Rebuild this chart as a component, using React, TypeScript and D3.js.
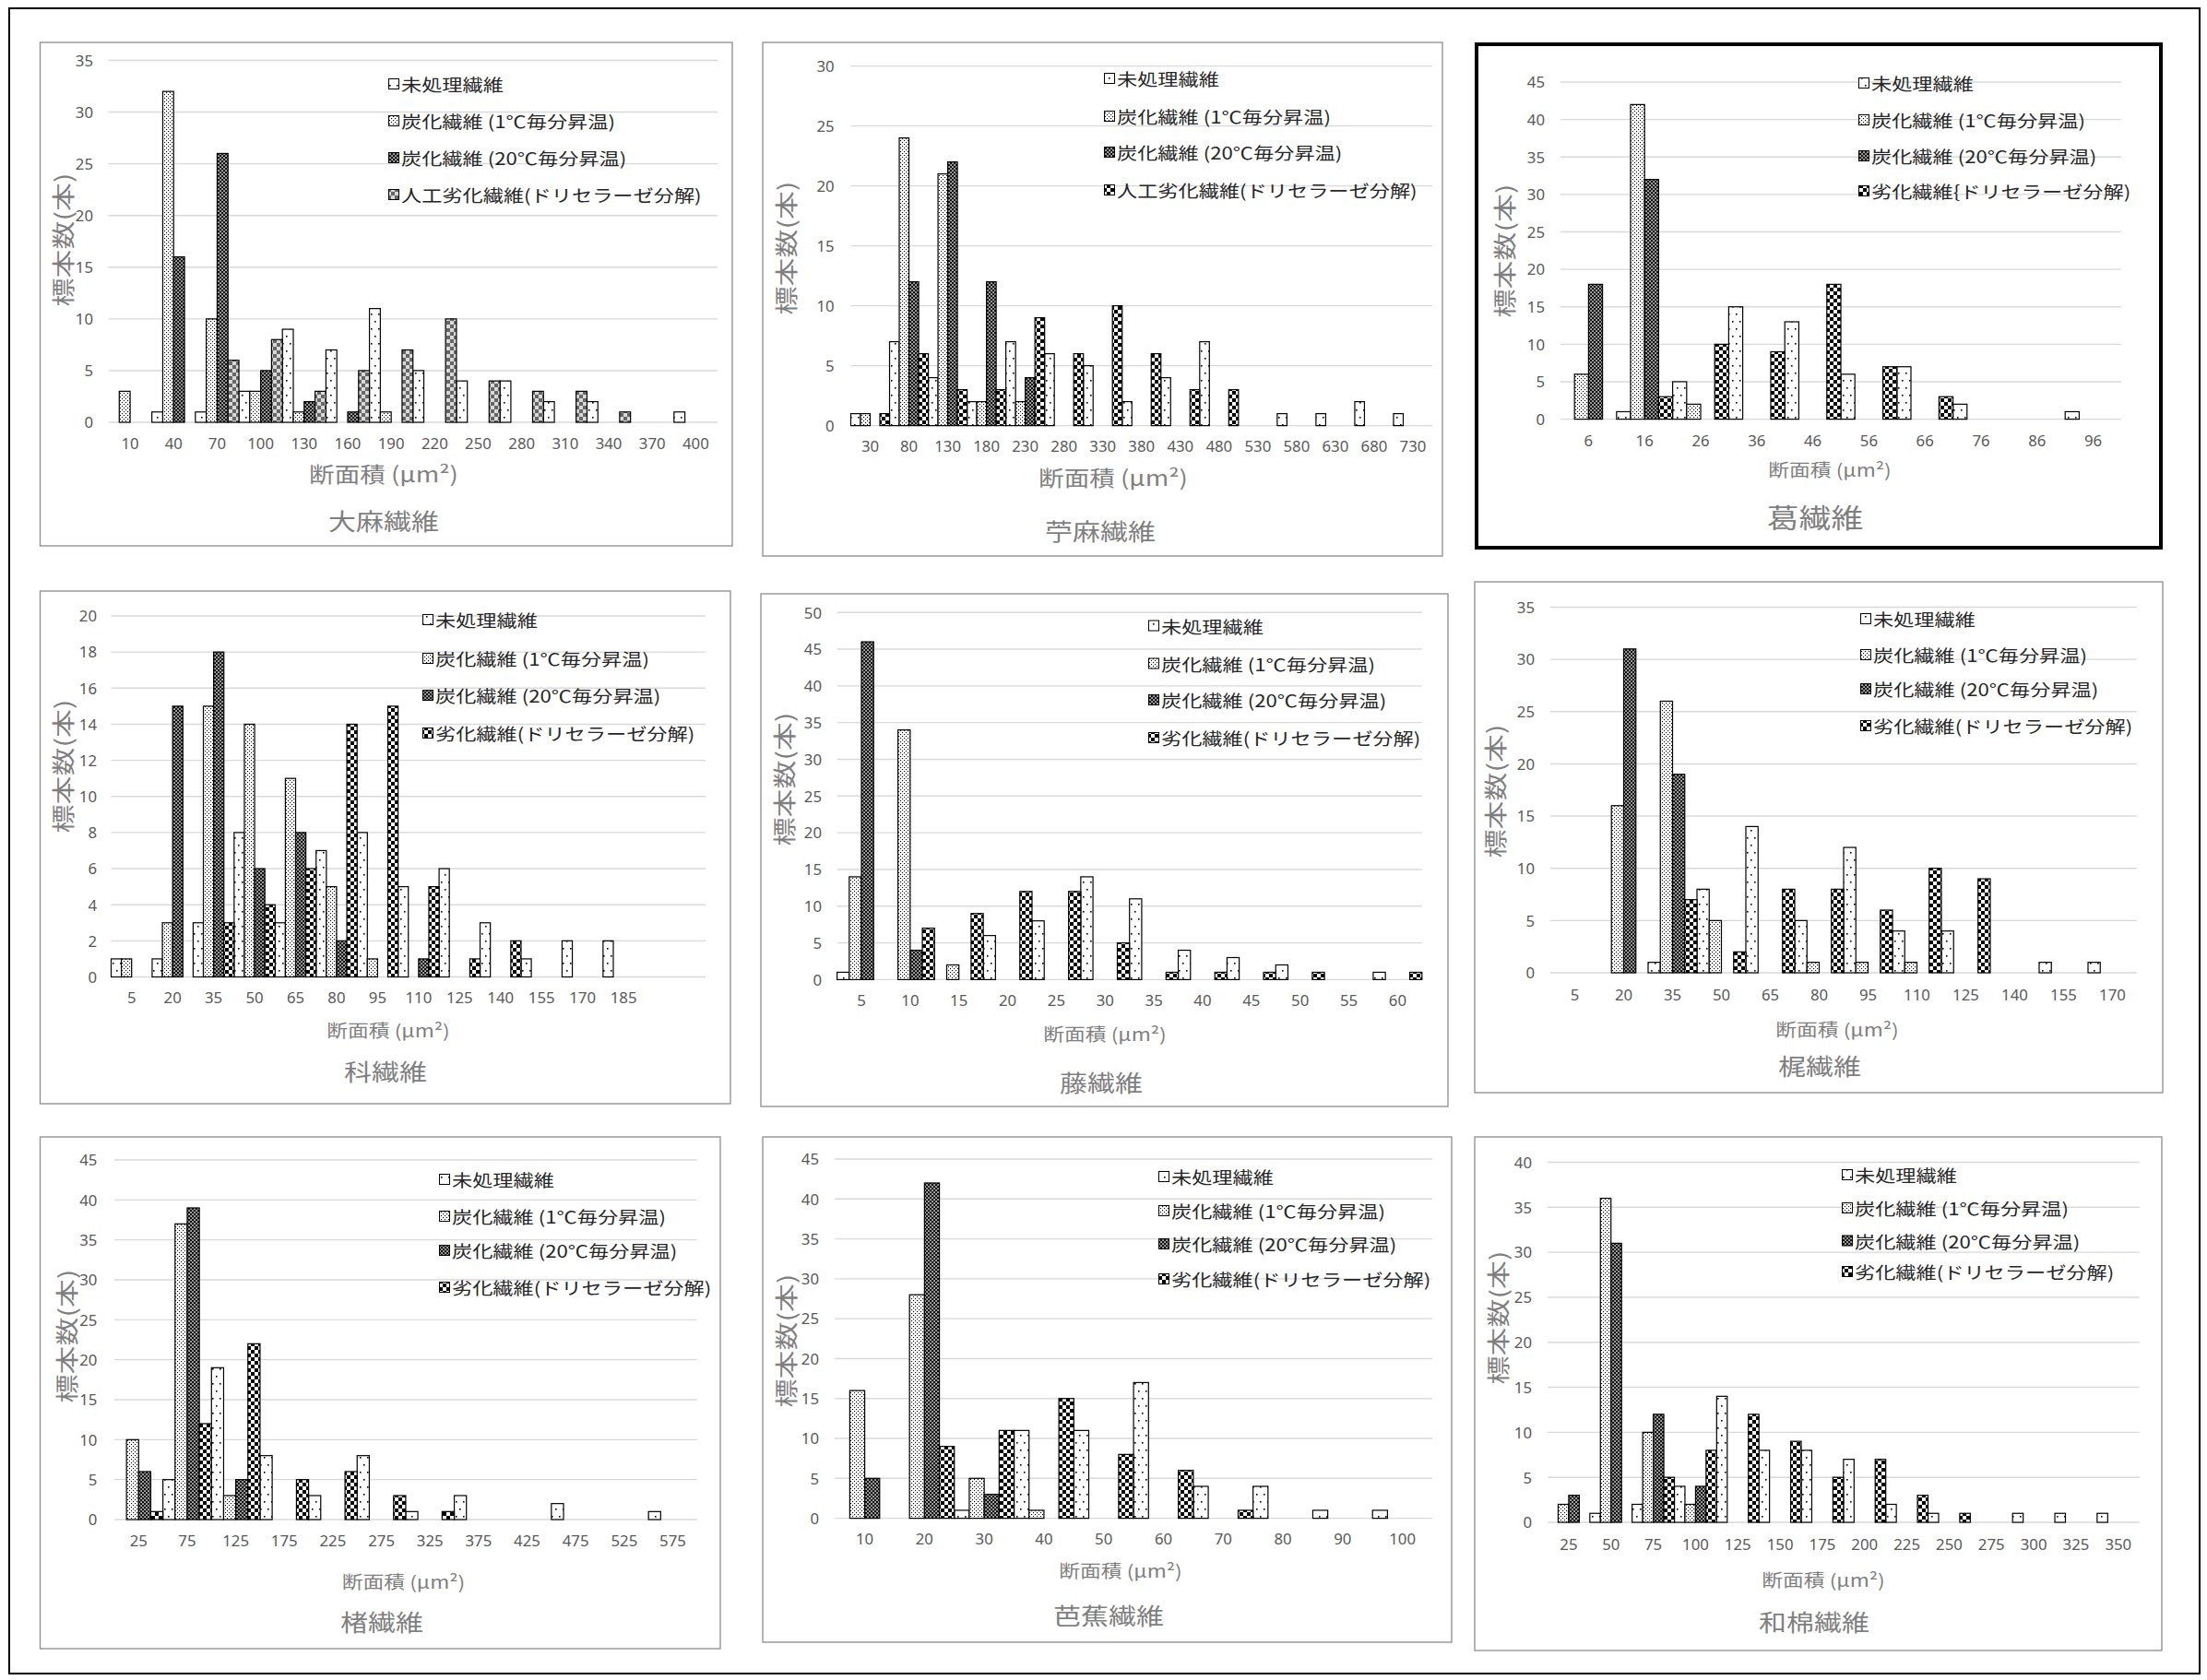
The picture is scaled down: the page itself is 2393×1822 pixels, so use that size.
import React from 'react';
import * as d3 from 'd3';

// ---------- legend / axis texts ----------
const seriesNamesA = ['未処理繊維', '炭化繊維 (1℃毎分昇温)', '炭化繊維 (20℃毎分昇温)', '人工劣化繊維(ドリセラーゼ分解)'];
const seriesNamesB = ['未処理繊維', '炭化繊維 (1℃毎分昇温)', '炭化繊維 (20℃毎分昇温)', '劣化繊維{ドリセラーゼ分解)'];
const seriesNamesC = ['未処理繊維', '炭化繊維 (1℃毎分昇温)', '炭化繊維 (20℃毎分昇温)', '劣化繊維(ドリセラーゼ分解)'];
const xTitle = '断面積 (μm²)';
const yTitle = '標本数(本)';

// ---------- 大麻繊維 ----------
const taimaCats = ['10', '40', '70', '100', '130', '160', '190', '220', '250', '280', '310', '340', '370', '400'];
const taimaRaw = [0, 1, 1, 3, 9, 7, 11, 5, 4, 4, 2, 2, 0, 1];
const taima1C = [3, 32, 10, 3, 1, 0, 1, 0, 0, 0, 0, 0, 0, 0];
const taima20C = [0, 16, 26, 5, 2, 1, 0, 0, 0, 0, 0, 0, 0, 0];
const taimaDeg = [0, 0, 6, 8, 3, 5, 7, 10, 4, 3, 3, 1, 0, 0];
const taimaTicks = [0, 5, 10, 15, 20, 25, 30, 35];

// ---------- 苧麻繊維 ----------
const chomaCats = ['30', '80', '130', '180', '230', '280', '330', '380', '430', '480', '530', '580', '630', '680', '730'];
const chomaRaw = [1, 7, 4, 2, 7, 6, 5, 2, 4, 7, 0, 1, 1, 2, 1];
const choma1C = [1, 24, 21, 2, 2, 0, 0, 0, 0, 0, 0, 0, 0, 0, 0];
const choma20C = [0, 12, 22, 12, 4, 0, 0, 0, 0, 0, 0, 0, 0, 0, 0];
const chomaDeg = [1, 6, 3, 3, 9, 6, 10, 6, 3, 3, 0, 0, 0, 0, 0];
const chomaTicks = [0, 5, 10, 15, 20, 25, 30];

// ---------- 葛繊維 ----------
const kuzuCats = ['6', '16', '26', '36', '46', '56', '66', '76', '86', '96'];
const kuzuRaw = [0, 1, 5, 15, 13, 6, 7, 2, 0, 1];
const kuzu1C = [6, 42, 2, 0, 0, 0, 0, 0, 0, 0];
const kuzu20C = [18, 32, 0, 0, 0, 0, 0, 0, 0, 0];
const kuzuDeg = [0, 3, 10, 9, 18, 7, 3, 0, 0, 0];
const kuzuTicks = [0, 5, 10, 15, 20, 25, 30, 35, 40, 45];

// ---------- 科繊維 ----------
const shinaCats = ['5', '20', '35', '50', '65', '80', '95', '110', '125', '140', '155', '170', '185'];
const shinaRaw = [1, 1, 3, 8, 3, 7, 8, 5, 6, 3, 1, 2, 2];
const shina1C = [1, 3, 15, 14, 11, 5, 1, 0, 0, 0, 0, 0, 0];
const shina20C = [0, 15, 18, 6, 8, 2, 0, 1, 0, 0, 0, 0, 0];
const shinaDeg = [0, 0, 3, 4, 6, 14, 15, 5, 1, 2, 0, 0, 0];
const shinaTicks = [0, 2, 4, 6, 8, 10, 12, 14, 16, 18, 20];

// ---------- 藤繊維 ----------
const fujiCats = ['5', '10', '15', '20', '25', '30', '35', '40', '45', '50', '55', '60'];
const fujiRaw = [1, 0, 0, 6, 8, 14, 11, 4, 3, 2, 0, 1];
const fuji1C = [14, 34, 2, 0, 0, 0, 0, 0, 0, 0, 0, 0];
const fuji20C = [46, 4, 0, 0, 0, 0, 0, 0, 0, 0, 0, 0];
const fujiDeg = [0, 7, 9, 12, 12, 5, 1, 1, 1, 1, 0, 1];
const fujiTicks = [0, 5, 10, 15, 20, 25, 30, 35, 40, 45, 50];

// ---------- 梶繊維 ----------
const kajiCats = ['5', '20', '35', '50', '65', '80', '95', '110', '125', '140', '155', '170'];
const kajiRaw = [0, 0, 1, 8, 14, 5, 12, 4, 4, 0, 1, 1];
const kaji1C = [0, 16, 26, 5, 0, 1, 1, 1, 0, 0, 0, 0];
const kaji20C = [0, 31, 19, 0, 0, 0, 0, 0, 0, 0, 0, 0];
const kajiDeg = [0, 0, 7, 2, 8, 8, 6, 10, 9, 0, 0, 0];
const kajiTicks = [0, 5, 10, 15, 20, 25, 30, 35];

// ---------- 楮繊維 ----------
const kozoCats = ['25', '75', '125', '175', '225', '275', '325', '375', '425', '475', '525', '575'];
const kozoRaw = [0, 5, 19, 8, 3, 8, 1, 3, 0, 2, 0, 1];
const kozo1C = [10, 37, 3, 0, 0, 0, 0, 0, 0, 0, 0, 0];
const kozo20C = [6, 39, 5, 0, 0, 0, 0, 0, 0, 0, 0, 0];
const kozoDeg = [1, 12, 22, 5, 6, 3, 1, 0, 0, 0, 0, 0];
const kozoTicks = [0, 5, 10, 15, 20, 25, 30, 35, 40, 45];

// ---------- 芭蕉繊維 ----------
const bashoCats = ['10', '20', '30', '40', '50', '60', '70', '80', '90', '100'];
const bashoRaw = [0, 0, 1, 11, 11, 17, 4, 4, 1, 1];
const basho1C = [16, 28, 5, 1, 0, 0, 0, 0, 0, 0];
const basho20C = [5, 42, 3, 0, 0, 0, 0, 0, 0, 0];
const bashoDeg = [0, 9, 11, 15, 8, 6, 1, 0, 0, 0];
const bashoTicks = [0, 5, 10, 15, 20, 25, 30, 35, 40, 45];

// ---------- 和棉繊維 ----------
const wataCats = ['25', '50', '75', '100', '125', '150', '175', '200', '225', '250', '275', '300', '325', '350'];
const wataRaw = [0, 1, 2, 4, 14, 8, 8, 7, 2, 1, 0, 1, 1, 1];
const wata1C = [2, 36, 10, 2, 0, 0, 0, 0, 0, 0, 0, 0, 0, 0];
const wata20C = [3, 31, 12, 4, 0, 0, 0, 0, 0, 0, 0, 0, 0, 0];
const wataDeg = [0, 0, 5, 8, 12, 9, 5, 7, 3, 1, 0, 0, 0, 0];
const wataTicks = [0, 5, 10, 15, 20, 25, 30, 35, 40];

// ---------- layout (positions / styles) ----------
const CJK = "'Noto Sans CJK JP', 'Noto Sans', sans-serif";
const NUM = "'Noto Sans', 'Liberation Sans', sans-serif";

type Cfg = {
  title: string; names: string[]; cats: string[]; series: number[][]; ticks: number[];
  box: [number, number, number, number]; boxStroke?: string; boxWidth?: number;
  x0: number; x1: number; extra?: number; yTop: number; yBot: number;
  yTickX: number; xTickY: number; axisX: number; axisY: number; axisSize: number;
  titleX: number; titleY: number; titleSize: number;
  yTitleX: number; yTitleY: number;
  legX: number; legY: number[]; degPattern?: string;
};

const panels: Cfg[] = [
  { title: '大麻繊維', names: seriesNamesA, cats: taimaCats, series: [taimaRaw, taima1C, taima20C, taimaDeg], ticks: taimaTicks,
    box: [43.5, 46, 794, 592], x0: 117.5, x1: 778, yTop: 65.5, yBot: 458, yTickX: 101, xTickY: 481,
    axisX: 416, axisY: 513, axisSize: 23, titleX: 416, titleY: 564, titleSize: 25, yTitleX: 67, yTitleY: 260,
    legX: 427, legY: [91, 131, 171, 211], degPattern: 'pDegLight' },
  { title: '苧麻繊維', names: seriesNamesA, cats: chomaCats, series: [chomaRaw, choma1C, choma20C, chomaDeg], ticks: chomaTicks,
    box: [827, 46, 1564, 603], x0: 922.5, x1: 1553, yTop: 71.6, yBot: 461.6, yTickX: 904.6, xTickY: 484,
    axisX: 1207, axisY: 517, axisSize: 23, titleX: 1193, titleY: 575, titleSize: 25, yTitleX: 850.5, yTitleY: 269,
    legX: 1203, legY: [85, 126, 165, 206] },
  { title: '葛繊維', names: seriesNamesB, cats: kuzuCats, series: [kuzuRaw, kuzu1C, kuzu20C, kuzuDeg], ticks: kuzuTicks,
    box: [1601, 48, 2343, 594], boxStroke: '#000', boxWidth: 4, x0: 1692, x1: 2300, yTop: 89, yBot: 454.6, yTickX: 1675, xTickY: 478,
    axisX: 1984, axisY: 509, axisSize: 19, titleX: 1968, titleY: 560, titleSize: 29, yTitleX: 1630, yTitleY: 272,
    legX: 2021, legY: [90, 130, 169, 207] },
  { title: '科繊維', names: seriesNamesC, cats: shinaCats, series: [shinaRaw, shina1C, shina20C, shinaDeg], ticks: shinaTicks,
    box: [43.5, 641, 792, 1197], x0: 120.5, x1: 765, extra: 1.5, yTop: 668, yBot: 1059.5, yTickX: 105, xTickY: 1081.5,
    axisX: 421, axisY: 1117, axisSize: 19, titleX: 418, titleY: 1161, titleSize: 25, yTitleX: 67, yTitleY: 831,
    legX: 464, legY: [672, 714, 754, 795] },
  { title: '藤繊維', names: seriesNamesC, cats: fujiCats, series: [fujiRaw, fuji1C, fuji20C, fujiDeg], ticks: fujiTicks,
    box: [825, 644, 1570, 1200], x0: 907.6, x1: 1541.8, yTop: 664.2, yBot: 1062.4, yTickX: 891, xTickY: 1085,
    axisX: 1198, axisY: 1121, axisSize: 19, titleX: 1194, titleY: 1173, titleSize: 25, yTitleX: 849, yTitleY: 845,
    legX: 1251, legY: [678.5, 719.5, 759, 800] },
  { title: '梶繊維', names: seriesNamesC, cats: kajiCats, series: [kajiRaw, kaji1C, kaji20C, kajiDeg], ticks: kajiTicks,
    box: [1599, 631, 2345, 1185], x0: 1681, x1: 2317, yTop: 658.5, yBot: 1055, yTickX: 1664, xTickY: 1079,
    axisX: 1992, axisY: 1116, axisSize: 19, titleX: 1973, titleY: 1155, titleSize: 25, yTitleX: 1619.5, yTitleY: 858,
    legX: 2023, legY: [671, 710, 747, 787] },
  { title: '楮繊維', names: seriesNamesC, cats: kozoCats, series: [kozoRaw, kozo1C, kozo20C, kozoDeg], ticks: kozoTicks,
    box: [43.5, 1233, 781, 1788], x0: 124, x1: 755.8, yTop: 1258, yBot: 1648, yTickX: 105.4, xTickY: 1670.5,
    axisX: 437.5, axisY: 1715, axisSize: 19, titleX: 414, titleY: 1758, titleSize: 25, yTitleX: 71, yTitleY: 1449,
    legX: 482, legY: [1279, 1319, 1356, 1396] },
  { title: '芭蕉繊維', names: seriesNamesC, cats: bashoCats, series: [bashoRaw, basho1C, basho20C, bashoDeg], ticks: bashoTicks,
    box: [827, 1233, 1574, 1781], x0: 905.2, x1: 1553, yTop: 1257, yBot: 1646.6, yTickX: 888, xTickY: 1668.7,
    axisX: 1215, axisY: 1702.6, axisSize: 19, titleX: 1202, titleY: 1751, titleSize: 25, yTitleX: 851, yTitleY: 1454,
    legX: 1262, legY: [1276, 1313, 1349, 1387] },
  { title: '和棉繊維', names: seriesNamesC, cats: wataCats, series: [wataRaw, wata1C, wata20C, wataDeg], ticks: wataTicks,
    box: [1599, 1233, 2344, 1790], x0: 1678, x1: 2319.7, yTop: 1260.5, yBot: 1651, yTickX: 1661, xTickY: 1675,
    axisX: 1977, axisY: 1713, axisSize: 19, titleX: 1967, titleY: 1758, titleSize: 25, yTitleX: 1623, yTitleY: 1429,
    legX: 2003, legY: [1274, 1310, 1345.5, 1379] },
];

const patternIds = ['pRaw', 'p1C', 'p20C', 'pDeg'];

function T(props: { x: number; y: number; size: number; fill: string; anchor?: string; sx?: number; rot?: number; family?: string; children: any }) {
  const { x, y, size, fill, anchor = 'middle', sx = 1.2, rot = 0, family = CJK, children } = props;
  return (
    <text
      transform={`translate(${x},${y}) scale(${sx},1)${rot ? ` rotate(${rot})` : ''}`}
      fontSize={size}
      fill={fill}
      textAnchor={anchor as any}
      dominantBaseline="central"
      fontFamily={family}
    >
      {children}
    </text>
  );
}

function Panel({ cfg }: { cfg: Cfg }) {
  const n = cfg.cats.length;
  const extra = cfg.extra || 0;
  const bandEnd = cfg.x0 + ((cfg.x1 - cfg.x0) * n) / (n + extra);
  const x = d3.scaleBand<string>().domain(cfg.cats).range([cfg.x0, bandEnd]).padding(0);
  const xs = d3.scaleBand<string>().domain(['0', '1', '2', '3']).range([0, x.bandwidth()]).padding(0);
  const yMax = cfg.ticks[cfg.ticks.length - 1];
  const y = d3.scaleLinear().domain([0, yMax]).range([cfg.yBot, cfg.yTop]);
  const [bx0, by0, bx1, by1] = cfg.box;
  const pats = patternIds.map((p, i) => (i === 3 && cfg.degPattern ? cfg.degPattern : p));
  return (
    <g>
      <rect x={bx0} y={by0} width={bx1 - bx0} height={by1 - by0} fill="#fff"
        stroke={cfg.boxStroke || '#8c8c8c'} strokeWidth={cfg.boxWidth || 1.3} />
      {cfg.ticks.map((t) => (
        <line key={'g' + t} x1={cfg.x0} x2={cfg.x1} y1={y(t)} y2={y(t)} stroke="#d9d9d9" strokeWidth={1.4} />
      ))}
      {cfg.ticks.map((t) => (
        <T key={'yt' + t} x={cfg.yTickX} y={y(t)} size={16} fill="#595959" anchor="end" sx={1.05} family={NUM}>{t}</T>
      ))}
      {cfg.cats.map((c) => (
        <T key={'xt' + c} x={(x(c) as number) + x.bandwidth() / 2} y={cfg.xTickY} size={16} fill="#595959" sx={1.05} family={NUM}>{c}</T>
      ))}
      {cfg.series.map((vals, si) =>
        vals.map((v, ci) =>
          v > 0 ? (
            <rect
              key={`b${si}-${ci}`}
              x={(x(cfg.cats[ci]) as number) + (xs(String(si)) as number)}
              y={y(v)}
              width={xs.bandwidth()}
              height={y(0) - y(v)}
              fill={`url(#${pats[si]})`}
              stroke="#000"
              strokeWidth={1.2}
            />
          ) : null
        )
      )}
      {cfg.names.map((nm, i) => (
        <g key={'l' + i}>
          <rect x={cfg.legX - 5.5} y={cfg.legY[i] - 5.5} width={11} height={11} fill={`url(#${pats[i]})`} stroke="#000" strokeWidth={1} />
          <T x={cfg.legX + 8} y={cfg.legY[i]} size={18.5} fill="#262626" anchor="start">{nm}</T>
        </g>
      ))}
      <T x={cfg.axisX} y={cfg.axisY} size={cfg.axisSize} fill="#7f7f7f">{xTitle}</T>
      <T x={cfg.yTitleX} y={cfg.yTitleY} size={31} fill="#7f7f7f" rot={-90} sx={0.8}>{yTitle}</T>
      <T x={cfg.titleX} y={cfg.titleY} size={cfg.titleSize} fill="#7f7f7f">{cfg.title}</T>
    </g>
  );
}

export default function App() {
  return (
    <svg width={2393} height={1822} style={{ position: 'absolute', left: 0, top: 0, background: '#fff' }}>
      <defs>
        <pattern id="pRaw" width={8} height={16} patternUnits="userSpaceOnUse">
          <rect width={8} height={16} fill="#fff" />
          <rect x={2} y={4} width={1.6} height={1.6} fill="#000" />
          <rect x={6} y={12} width={1.6} height={1.6} fill="#000" />
        </pattern>
        <pattern id="p1C" width={4} height={4} patternUnits="userSpaceOnUse">
          <rect width={4} height={4} fill="#fff" />
          <rect x={0} y={0} width={1.1} height={1.1} fill="#000" />
          <rect x={2} y={2} width={1.1} height={1.1} fill="#000" />
        </pattern>
        <pattern id="p20C" width={4} height={4} patternUnits="userSpaceOnUse">
          <rect width={4} height={4} fill="#111" />
          <rect x={0.3} y={0.3} width={1.5} height={1.5} fill="#fff" />
          <rect x={2.3} y={2.3} width={1.5} height={1.5} fill="#fff" />
        </pattern>
        <pattern id="pDeg" width={8} height={8} patternUnits="userSpaceOnUse">
          <rect width={8} height={8} fill="#fff" />
          <rect x={0} y={0} width={4} height={4} fill="#000" />
          <rect x={4} y={4} width={4} height={4} fill="#000" />
        </pattern>
        <pattern id="pDegLight" width={8} height={8} patternUnits="userSpaceOnUse">
          <rect width={8} height={8} fill="#d9d9d9" />
          <rect x={0} y={0} width={4} height={4} fill="#666" />
          <rect x={4} y={4} width={4} height={4} fill="#666" />
        </pattern>
      </defs>
      <rect x={0} y={0} width={2393} height={1822} fill="#fff" />
      <rect x={10} y={9} width={2375} height={1806} fill="none" stroke="#000" strokeWidth={2} />
      {panels.map((p, i) => (
        <Panel key={i} cfg={p} />
      ))}
    </svg>
  );
}
